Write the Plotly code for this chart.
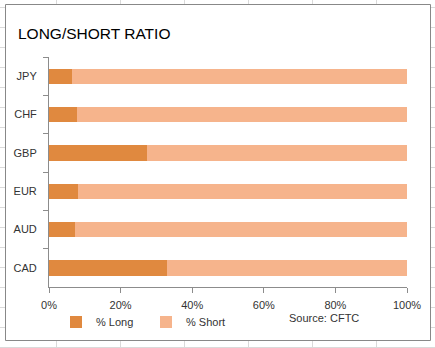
import plotly.graph_objects as go

# Currency positioning (CFTC), share of long vs short
currencies = ["JPY", "CHF", "GBP", "EUR", "AUD", "CAD"]
pct_long = [6.5, 7.7, 27.3, 8.0, 7.2, 32.9]
pct_short = [100 - v for v in pct_long]
x_ticks = [0, 20, 40, 60, 80, 100]
x_tick_text = [f"{t}%" for t in x_ticks]

W, H = 435, 348
L, R, T, B = 49, 28, 57, 61
PW, PH = W - L - R, H - T - B


def px_x(px):
    return (px - L) / PW


def px_y(py):
    return (H - B - py) / PH


LONG_C = "#E0893F"
SHORT_C = "#F6B48C"
AXIS_C = "#8C8C8C"
TEXT_C = "#333333"
FONT = "Liberation Sans"

fig = go.Figure()
fig.add_trace(go.Bar(y=currencies, x=pct_long, orientation="h", name="% Long",
                     marker=dict(color=LONG_C, line=dict(width=0))))
fig.add_trace(go.Bar(y=currencies, x=pct_short, orientation="h", name="% Short",
                     marker=dict(color=SHORT_C, line=dict(width=0))))

# sheet cell grid behind the chart box, then the white chart box on top
shapes = []
grid_c = "#DADADA"
for k in range(-1, 7):
    gx = 56.5 + 64 * k
    shapes.append(dict(type="line", xref="paper", yref="paper", layer="below",
                       x0=px_x(gx), x1=px_x(gx), y0=px_y(0), y1=px_y(H),
                       line=dict(color=grid_c, width=1)))
for k in range(0, 18):
    gy = 7.5 + 20 * k
    shapes.append(dict(type="line", xref="paper", yref="paper", layer="below",
                       x0=px_x(0), x1=px_x(W), y0=px_y(gy), y1=px_y(gy),
                       line=dict(color=grid_c, width=1)))
shapes.append(dict(type="rect", xref="paper", yref="paper", layer="below",
                   x0=px_x(5.5), x1=px_x(430.5), y0=px_y(4.5), y1=px_y(340.5),
                   fillcolor="white", line=dict(color="#888888", width=1)))

fig.update_layout(
    width=W, height=H,
    margin=dict(l=L, r=R, t=T, b=B, pad=0),
    paper_bgcolor="white",
    plot_bgcolor="rgba(0,0,0,0)",
    barmode="stack",
    bargap=0.6,
    font=dict(family=FONT, size=11, color=TEXT_C),
    title=dict(text="LONG/SHORT RATIO", x=18 / W, xanchor="left", xref="container",
               y=1 - 34 / H, yanchor="middle", yref="container",
               font=dict(family=FONT, size=15.5, color="#000000")),
    showlegend=True,
    legend=dict(orientation="h", x=px_x(56), y=px_y(322), xanchor="left",
                yanchor="middle", itemwidth=30, entrywidth=45,
                font=dict(family=FONT, size=11, color=TEXT_C),
                bgcolor="rgba(0,0,0,0)", traceorder="normal"),
    shapes=shapes,
    annotations=[dict(text="Source: CFTC", xref="paper", yref="paper",
                      x=px_x(324), y=px_y(318), xanchor="center", yanchor="middle",
                      showarrow=False, font=dict(family=FONT, size=11, color=TEXT_C))],
)

fig.update_xaxes(range=[0, 100], tickvals=x_ticks, ticktext=x_tick_text,
                 showgrid=False, zeroline=False, showline=True, linecolor=AXIS_C,
                 linewidth=1, ticks="outside", ticklen=5, tickcolor=AXIS_C,
                 ticklabelstandoff=3, fixedrange=True)
fig.update_yaxes(autorange="reversed", showgrid=False, zeroline=False, showline=True,
                 linecolor=AXIS_C, linewidth=1, ticks="outside", ticklen=5,
                 tickcolor=AXIS_C, tickson="boundaries", ticklabelstandoff=9,
                 fixedrange=True)

fig.write_html("out.html")
